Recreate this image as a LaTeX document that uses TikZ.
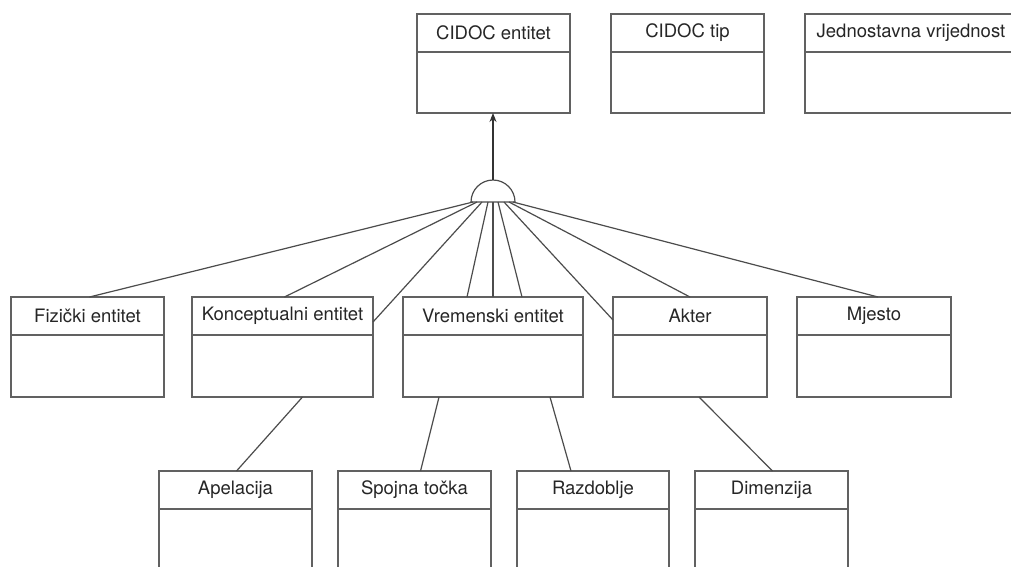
\documentclass[tikz,border=0pt]{standalone}
\usepackage{fontspec}
\setmainfont{TeX Gyre Heros}
\usetikzlibrary{calc,arrows.meta}

% class box: name, left, top, width, height, header text
% (the y axis points down, so positive offsets move downward)
\newcommand{\classbox}[6]{%
  \node[classframe, minimum width=#4pt, minimum height=#5pt, anchor=north west] (#1) at (#2,#3) {};
  \draw[classline] ($(#1.north west)+(0,38)$) -- ($(#1.north east)+(0,38)$);
  \node[classtitle] (#1-title) at ($(#1.north)+(0,19)$) {#6};
}

\begin{document}
\begin{tikzpicture}[x=1pt,y=-1pt,
  classframe/.style={draw=black!62, line width=1.4pt, inner sep=0pt, outer sep=0pt, fill=white},
  classline/.style={draw=black!62, line width=1.4pt},
  classtitle/.style={font=\fontsize{18.5}{20}\selectfont, text=black!85, inner sep=0pt},
  link/.style={draw=black!70, line width=1.2pt},
  gen/.style={draw=black!80, line width=1.2pt, -{Stealth[length=9pt,width=7pt]}}]
\useasboundingbox (0,0) rectangle (1011,566);
\fill[white] (0,0) rectangle (1011,566);
\begin{scope}
\clip (0,0) rectangle (1011,566);

% top row
\classbox{ent}{417}{14}{153}{99}{CIDOC entitet}
\classbox{tip}{611}{14}{153}{99}{CIDOC tip}
\classbox{val}{805}{14}{212}{99}{Jednostavna vrijednost}

% middle row
\classbox{fiz}{11}{297}{153}{100}{Fizički entitet}
\classbox{konc}{192}{297}{181}{100}{Konceptualni entitet}
\classbox{vrem}{403}{297}{180}{100}{Vremenski entitet}
\classbox{akter}{613}{297}{154}{100}{Akter}
\classbox{mj}{797}{297}{154}{100}{Mjesto}

% bottom row
\classbox{apel}{159}{471}{153}{100}{Apelacija}
\classbox{spoj}{338}{471}{153}{100}{Spojna točka}
\classbox{razd}{517}{471}{152}{100}{Razdoblje}
\classbox{dim}{695}{471}{153}{100}{Dimenzija}

% generalisation half-circle
\coordinate (agg) at (493,202);
\coordinate (aggtop) at (493,180);
\draw[link, fill=white] ($(agg)+(-22,0)$) arc[start angle=180, end angle=360, radius=22] -- cycle;
\draw[gen] (aggtop) -- (aggtop |- ent.south);

% branches to the subclasses
\draw[link] ($(agg)+(-20,0)$) -- ($(fiz.north)+(2,0)$);
\draw[link] ($(agg)+(-16,0)$) -- ($(konc.north)+(2,0)$);
\draw[link] ($(agg)+(-11,0)$) -- ($(konc.north east)+(0,25)$);
\draw[link] ($(agg)+(-5,0)$) -- ($(vrem.north)+(-26,0)$);
\draw[link] (agg) -- (vrem.north);
\draw[link] ($(agg)+(5,0)$) -- ($(vrem.north)+(29,0)$);
\draw[link] ($(agg)+(11,0)$) -- ($(akter.north west)+(0,23)$);
\draw[link] ($(agg)+(16,0)$) -- (akter.north);
\draw[link] ($(agg)+(20,0)$) -- ($(mj.north)+(4,0)$);

% lower links
\draw[link] ($(konc.south)+(20,0)$) -- ($(apel.north)+(1,0)$);
\draw[link] ($(vrem.south)+(-54,0)$) -- ($(spoj.north)+(6,0)$);
\draw[link] ($(vrem.south)+(57,0)$) -- ($(razd.north)+(-22,0)$);
\draw[link] ($(akter.south)+(9,0)$) -- ($(dim.north)+(1,0)$);
\end{scope}
\end{tikzpicture}
\end{document}
